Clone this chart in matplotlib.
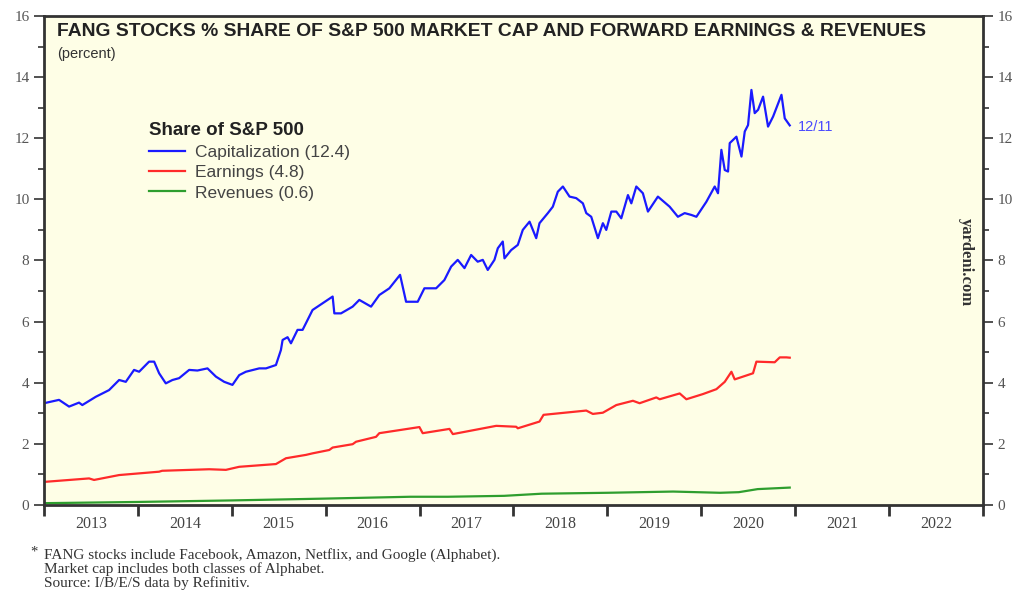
import numpy as np
import matplotlib.pyplot as plt
from matplotlib.ticker import FixedLocator, NullFormatter, FixedFormatter

# FANG share of S&P 500 (percent), x in decimal years

cap_x = [2013.000, 2013.160, 2013.267, 2013.373, 2013.408, 2013.551, 2013.693, 2013.800,
         2013.871, 2013.959, 2014.013, 2014.119, 2014.173, 2014.226, 2014.297, 2014.368,
         2014.439, 2014.546, 2014.634, 2014.741, 2014.831, 2014.919, 2015.007, 2015.079,
         2015.150, 2015.292, 2015.364, 2015.470, 2015.523, 2015.541, 2015.594, 2015.630,
         2015.700, 2015.754, 2015.790, 2015.860, 2015.967, 2016.074, 2016.092, 2016.163,
         2016.287, 2016.358, 2016.483, 2016.571, 2016.678, 2016.792, 2016.856, 2016.980,
         2017.051, 2017.176, 2017.264, 2017.336, 2017.406, 2017.478, 2017.549, 2017.619,
         2017.673, 2017.726, 2017.797, 2017.833, 2017.886, 2017.904, 2017.975, 2018.046,
         2018.099, 2018.171, 2018.242, 2018.277, 2018.366, 2018.419, 2018.472, 2018.526,
         2018.597, 2018.668, 2018.739, 2018.775, 2018.828, 2018.899, 2018.952, 2018.988,
         2019.042, 2019.095, 2019.148, 2019.219, 2019.255, 2019.308, 2019.378, 2019.432,
         2019.538, 2019.663, 2019.751, 2019.823, 2019.894, 2019.948, 2020.054, 2020.143,
         2020.178, 2020.214, 2020.250, 2020.285, 2020.303, 2020.374, 2020.428, 2020.463,
         2020.498, 2020.534, 2020.569, 2020.605, 2020.658, 2020.711, 2020.765, 2020.854,
         2020.889, 2020.942]
cap_y = [3.33, 3.44, 3.22, 3.35, 3.27, 3.54, 3.76, 4.09,
         4.03, 4.42, 4.36, 4.69, 4.69, 4.31, 3.98, 4.09,
         4.15, 4.42, 4.40, 4.47, 4.20, 4.03, 3.93, 4.25,
         4.36, 4.47, 4.47, 4.58, 5.07, 5.40, 5.49, 5.29,
         5.73, 5.73, 5.95, 6.38, 6.60, 6.82, 6.27, 6.27,
         6.49, 6.71, 6.49, 6.87, 7.09, 7.53, 6.65, 6.65,
         7.09, 7.09, 7.36, 7.80, 8.02, 7.75, 8.18, 7.96,
         8.02, 7.69, 8.02, 8.40, 8.62, 8.07, 8.34, 8.51,
         9.00, 9.27, 8.73, 9.22, 9.55, 9.76, 10.25, 10.42,
         10.09, 10.04, 9.87, 9.55, 9.43, 8.73, 9.22, 9.00,
         9.60, 9.60, 9.38, 10.14, 9.87, 10.42, 10.20, 9.60,
         10.09, 9.76, 9.43, 9.55, 9.49, 9.43, 9.92, 10.42,
         10.20, 11.62, 10.96, 10.91, 11.84, 12.05, 11.40, 12.22,
         12.43, 13.58, 12.82, 12.93, 13.36, 12.38, 12.71, 13.42,
         12.65, 12.42]

earn_x = [2013.018, 2013.480, 2013.533, 2013.800, 2014.226, 2014.258, 2014.759, 2014.937,
          2015.079, 2015.470, 2015.577, 2015.790, 2015.860, 2016.038, 2016.074, 2016.287,
          2016.323, 2016.536, 2016.571, 2016.785, 2016.998, 2017.033, 2017.318, 2017.354,
          2017.816, 2018.029, 2018.046, 2018.277, 2018.320, 2018.775, 2018.845, 2018.952,
          2019.095, 2019.272, 2019.343, 2019.521, 2019.557, 2019.770, 2019.841, 2020.018,
          2020.161, 2020.250, 2020.321, 2020.356, 2020.551, 2020.587, 2020.782, 2020.836,
          2020.907, 2020.942]
earn_y = [0.76, 0.87, 0.82, 0.98, 1.09, 1.12, 1.17, 1.15,
          1.25, 1.34, 1.53, 1.64, 1.69, 1.80, 1.88, 1.99,
          2.07, 2.23, 2.35, 2.45, 2.55, 2.35, 2.49, 2.32,
          2.59, 2.56, 2.51, 2.73, 2.95, 3.09, 2.98, 3.02,
          3.27, 3.41, 3.33, 3.52, 3.46, 3.65, 3.46, 3.63,
          3.79, 4.03, 4.36, 4.11, 4.31, 4.69, 4.67, 4.83,
          4.83, 4.82]

rev_x = [2013.0, 2014.0, 2015.0, 2016.0, 2016.9, 2017.3, 2017.9, 2018.3,
         2019.0, 2019.7, 2019.95, 2020.2, 2020.4, 2020.6, 2020.942]
rev_y = [0.06, 0.10, 0.15, 0.21, 0.27, 0.27, 0.30, 0.37,
         0.40, 0.44, 0.42, 0.40, 0.42, 0.52, 0.57]

years = list(range(2013, 2024))
year_labels = [str(y) for y in range(2013, 2023)]
legend_labels = ['Capitalization (12.4)', 'Earnings (4.8)', 'Revenues (0.6)']

SERIF = 'Liberation Serif'
SANS = 'Liberation Sans'
INK = '#333333'

fig = plt.figure(figsize=(10.14, 5.91), dpi=100)
ax = fig.add_axes([0.0434, 0.1455, 0.9260, 0.8275])
ax.set_facecolor('#fefee6')

ax.plot(cap_x, cap_y, color='#1a1aff', lw=1.6, label=legend_labels[0])
ax.plot(earn_x, earn_y, color='#ff2a2a', lw=1.6, label=legend_labels[1])
ax.plot(rev_x, rev_y, color='#2e9e2e', lw=1.6, label=legend_labels[2])

ax.set_xlim(2013, 2023)
ax.set_ylim(0, 16)

# x axis: ticks at year boundaries, labels centred in each year
ax.xaxis.set_major_locator(FixedLocator(years))
ax.xaxis.set_major_formatter(NullFormatter())
ax.xaxis.set_minor_locator(FixedLocator([y + 0.5 for y in range(2013, 2023)]))
ax.xaxis.set_minor_formatter(FixedFormatter(year_labels))
ax.tick_params(axis='x', which='major', direction='out', length=8, width=2, color=INK)
ax.tick_params(axis='x', which='minor', length=0, pad=8, labelsize=11.5, labelcolor='#444444')

# y axis on both sides
ax.set_yticks(range(0, 17, 2))
ax.set_yticks(range(1, 16, 2), minor=True)
ax.tick_params(axis='y', which='both', left=True, right=True, labelleft=True,
               labelright=True, direction='out', color=INK, width=1.2,
               labelsize=11, labelcolor='#555555')
ax.tick_params(axis='y', which='major', length=7)
ax.tick_params(axis='y', which='minor', length=4)

for lab in ax.get_xticklabels(minor=True):
    lab.set_family(SERIF)
for lab in ax.yaxis.get_ticklabels(which='both'):
    lab.set_family(SERIF)

for sp in ax.spines.values():
    sp.set_color(INK)
    sp.set_linewidth(2)

ax.text(0.014, 0.968, 'FANG STOCKS % SHARE OF S&P 500 MARKET CAP AND FORWARD EARNINGS & REVENUES',
        transform=ax.transAxes, family=SANS, fontsize=13.9, fontweight='bold',
        color='#222222', va='center', ha='left')
ax.text(0.014, 0.923, '(percent)', transform=ax.transAxes, family=SANS,
        fontsize=10.5, color='#333333', va='center', ha='left')

leg = ax.legend(loc='upper left', bbox_to_anchor=(0.1025, 0.8), frameon=False,
                title='Share of S&P 500', alignment='left', borderpad=0,
                handlelength=2.1, handletextpad=0.55, labelspacing=0.3,
                prop={'family': SANS, 'size': 12.5})
leg.get_title().set_fontproperties({'family': SANS, 'size': 13.5, 'weight': 'bold'})
leg.get_title().set_color('#222222')
for t in leg.get_texts():
    t.set_color('#444444')

ax.annotate('12/11', xy=(cap_x[-1], cap_y[-1]), xytext=(6, -1),
            textcoords='offset points', family=SANS, fontsize=10.5,
            color='#4a4aff', va='center', ha='left')

ax.text(0.982, 0.497, 'yardeni.com', transform=ax.transAxes, rotation=270,
        family=SERIF, fontsize=12, fontweight='bold', color='#333333',
        va='center', ha='center')

fig.text(0.030, 0.066, '*', family=SERIF, fontsize=10.5, color='#333333', va='center')
foot = ('FANG stocks include Facebook, Amazon, Netflix, and Google (Alphabet).\n'
        'Market cap includes both classes of Alphabet.\n'
        'Source: I/B/E/S data by Refinitiv.')
fig.text(0.0434, 0.073, foot, family=SERIF, fontsize=11, color='#333333',
         va='top', ha='left', linespacing=1.02)

fig.savefig('out.png', dpi=100)
